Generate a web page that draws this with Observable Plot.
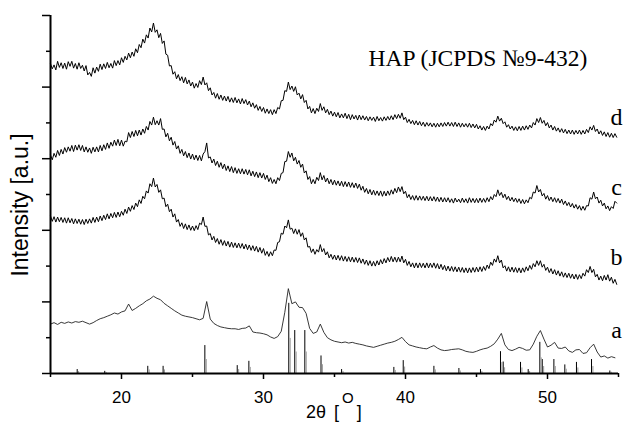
<!DOCTYPE html>
<html>
<head>
<meta charset="utf-8">
<script src="https://cdn.jsdelivr.net/npm/d3@7"></script>
<script src="https://cdn.jsdelivr.net/npm/@observablehq/plot@0.6"></script>
<style>
  html, body { margin: 0; padding: 0; background: #fff; }
</style>
</head>
<body>
<div id="chart"></div>
<script>
// 2θ grids of the scans (degrees)
const twoThetaStart = 15, twoThetaEnd = 55;
const stepSmooth = 0.25, stepNoisy = 0.125;
const twoThetaA = d3.range(twoThetaStart, twoThetaEnd, stepSmooth);  // 160 points (curve a)
const twoThetaBCD = d3.range(twoThetaStart, twoThetaEnd, stepNoisy); // 320 points (curves b, c, d)

const seriesNames = ["a", "b", "c", "d"];

// Intensities (arbitrary units, stacked curves)
const intensityA = [
  13.8, 14.2, 13.7, 14.3, 14.0, 14.4, 14.1, 14.5,
  14.3, 14.6, 14.2, 13.8, 14.2, 14.8, 15.3, 15.6,
  16.0, 16.4, 16.9, 16.6, 17.2, 17.5, 19.4, 17.6,
  18.2, 18.9, 19.5, 20.3, 20.8, 21.6, 21.0, 20.6,
  19.6, 18.9, 18.2, 17.5, 16.9, 16.3, 16.0, 15.8,
  15.6, 15.3, 15.0, 15.4, 20.1, 15.2, 14.0, 13.4,
  13.0, 12.8, 12.6, 12.5, 12.5, 12.3, 12.6, 12.7,
  13.3, 11.6, 11.4, 11.3, 11.1, 10.8, 10.2, 9.8,
  10.3, 11.8, 17.1, 23.7, 19.5, 20.0, 18.5, 18.4,
  16.8, 12.6, 11.2, 11.6, 13.8, 11.5, 10.0, 9.4,
  9.0, 8.8, 8.6, 8.8, 8.5, 8.7, 8.4, 8.2,
  8.0, 7.7, 7.5, 7.3, 7.6, 7.9, 8.2, 8.5,
  8.7, 9.0, 9.5, 10.1, 8.9, 8.0, 7.7, 7.4,
  7.2, 7.0, 6.9, 7.4, 7.8, 7.1, 6.6, 6.4,
  6.5, 6.7, 6.8, 6.9, 6.6, 6.2, 6.0, 5.9,
  6.2, 6.6, 6.9, 7.1, 7.6, 8.3, 9.6, 11.2,
  8.0, 6.7, 6.4, 6.8, 7.3, 7.0, 6.5, 6.6,
  8.2, 10.4, 12.0, 9.6, 7.4, 7.9, 8.7, 7.1,
  7.0, 7.4, 6.3, 5.9, 6.6, 6.7, 5.6, 5.8,
  7.2, 8.2, 6.0, 4.6, 4.9, 4.3, 4.7, 4.4
];
const intensityB = [
  44.0, 42.5, 43.8, 42.3, 43.7, 42.4, 43.6, 42.2, 43.5, 42.0, 43.5, 42.1, 43.3, 41.8, 43.2, 41.9,
  43.1, 41.7, 43.0, 41.6, 43.1, 41.9, 43.2, 42.0, 43.6, 42.2, 43.7, 42.4, 44.0, 42.7, 44.2, 43.0,
  44.6, 43.2, 44.7, 43.5, 45.0, 43.6, 45.1, 43.8, 45.3, 44.2, 45.9, 44.7, 46.5, 45.3, 46.9, 45.8,
  47.6, 46.6, 48.5, 47.5, 49.5, 48.8, 51.0, 50.4, 53.0, 52.2, 54.6, 52.1, 52.8, 50.6, 51.3, 48.8,
  49.0, 46.6, 47.3, 45.2, 45.9, 43.7, 44.6, 42.3, 43.0, 41.1, 42.1, 40.5, 41.8, 40.2, 41.5, 40.0,
  41.2, 39.9, 41.3, 40.2, 42.0, 41.6, 43.7, 41.1, 41.2, 38.7, 39.1, 37.3, 38.3, 36.6, 37.7, 36.1,
  37.4, 35.8, 37.1, 35.6, 36.9, 35.3, 36.7, 35.2, 36.5, 35.1, 36.4, 35.0, 36.3, 34.8, 36.1, 34.6,
  35.9, 34.4, 35.7, 34.2, 35.5, 33.9, 35.2, 33.6, 34.9, 33.0, 34.1, 32.7, 34.0, 32.9, 34.5, 34.4,
  36.6, 36.8, 39.2, 38.9, 41.2, 40.7, 42.9, 40.3, 40.6, 39.1, 40.4, 38.9, 40.2, 38.3, 39.3, 37.3,
  37.9, 35.3, 35.5, 33.8, 34.8, 33.3, 34.6, 33.9, 36.0, 34.0, 34.9, 33.1, 34.0, 32.3, 33.3, 31.9,
  33.1, 31.7, 33.0, 31.6, 32.9, 31.4, 32.7, 31.3, 32.6, 31.2, 32.5, 31.1, 32.4, 31.0, 32.3, 30.8,
  32.0, 30.5, 31.7, 30.2, 31.5, 30.0, 31.3, 30.0, 31.5, 30.3, 31.8, 30.6, 32.1, 30.9, 32.4, 31.2,
  32.7, 31.2, 32.5, 31.1, 32.5, 31.2, 32.8, 30.9, 31.9, 30.2, 31.3, 29.8, 30.9, 29.5, 30.9, 29.5,
  30.9, 29.6, 30.8, 29.5, 30.9, 29.5, 30.8, 29.6, 30.9, 29.4, 30.7, 29.2, 30.5, 29.0, 30.2, 28.7,
  30.0, 28.6, 29.9, 28.5, 29.8, 28.4, 29.7, 28.3, 29.6, 28.2, 29.5, 28.1, 29.5, 28.2, 29.6, 28.3,
  29.7, 28.4, 29.8, 28.5, 29.9, 28.8, 30.3, 29.3, 31.1, 30.2, 32.0, 31.1, 32.9, 30.9, 31.7, 29.5,
  30.1, 28.6, 29.8, 28.4, 29.7, 28.3, 29.6, 28.2, 29.5, 28.1, 29.5, 28.3, 29.8, 28.7, 30.2, 29.1,
  30.7, 29.8, 31.5, 30.2, 31.5, 29.7, 30.5, 28.8, 29.7, 28.2, 29.3, 27.8, 29.0, 27.5, 28.7, 27.2,
  28.4, 26.9, 28.1, 26.8, 28.0, 26.6, 27.8, 26.4, 27.7, 26.3, 27.6, 26.5, 28.0, 27.2, 29.0, 28.2,
  29.9, 28.2, 29.1, 27.0, 27.7, 26.1, 27.2, 25.9, 27.4, 26.1, 27.6, 25.8, 26.9, 25.2, 26.3, 24.9
];
const intensityC = [
  61.0, 59.7, 61.5, 60.4, 62.3, 60.9, 62.6, 61.3, 63.1, 61.8, 63.3, 62.1, 63.7, 62.0, 63.8, 62.4,
  63.9, 62.3, 63.7, 61.9, 63.3, 61.8, 63.0, 61.5, 63.2, 61.9, 63.3, 61.9, 63.7, 62.2, 63.9, 62.6,
  64.4, 62.9, 64.6, 63.5, 65.2, 63.7, 65.4, 63.6, 65.2, 63.5, 64.9, 64.7, 67.3, 65.9, 67.6, 66.2,
  67.9, 66.4, 68.0, 66.6, 68.3, 67.1, 69.0, 68.0, 70.4, 69.4, 71.6, 69.5, 70.6, 69.4, 71.2, 68.2,
  68.3, 66.1, 67.1, 65.0, 66.0, 63.8, 64.8, 62.7, 63.6, 61.5, 62.6, 60.8, 62.0, 60.3, 61.6, 59.9,
  61.3, 59.7, 61.0, 59.5, 60.9, 59.4, 61.3, 62.0, 64.4, 60.2, 60.5, 58.8, 59.9, 58.1, 59.3, 57.6,
  58.9, 57.2, 58.5, 56.7, 58.0, 56.4, 57.8, 56.1, 57.5, 55.9, 57.2, 55.8, 57.2, 55.7, 57.0, 55.5,
  56.9, 55.2, 56.5, 55.0, 56.3, 54.7, 56.1, 54.6, 55.9, 54.2, 55.4, 53.6, 54.7, 53.1, 54.2, 53.0,
  54.7, 53.9, 55.9, 56.1, 59.2, 59.3, 62.0, 60.4, 61.6, 59.4, 60.4, 58.5, 59.5, 57.6, 58.5, 56.0,
  56.6, 54.2, 55.0, 53.0, 54.2, 53.0, 54.8, 53.9, 56.1, 54.1, 55.3, 53.5, 54.6, 53.0, 54.2, 52.7,
  54.0, 52.6, 53.8, 52.4, 53.7, 52.2, 53.6, 52.2, 53.5, 52.0, 53.3, 51.9, 53.2, 51.7, 52.9, 51.2,
  52.3, 50.6, 51.7, 50.2, 51.4, 49.9, 51.2, 49.8, 51.0, 49.7, 51.0, 49.5, 50.9, 49.6, 51.0, 49.8,
  51.3, 50.1, 51.7, 50.5, 52.1, 50.8, 52.2, 50.2, 50.9, 49.1, 50.0, 48.6, 49.7, 48.4, 49.7, 48.4,
  49.6, 48.4, 49.5, 48.3, 49.5, 48.2, 49.4, 48.2, 49.4, 48.1, 49.3, 48.0, 49.2, 47.9, 49.1, 47.9,
  49.1, 47.8, 48.8, 47.6, 49.0, 47.9, 48.7, 47.7, 49.0, 47.8, 48.8, 47.6, 49.1, 47.8, 48.9, 47.7,
  48.9, 47.7, 49.0, 47.8, 48.9, 47.8, 49.1, 48.0, 49.4, 48.5, 50.0, 49.4, 51.3, 49.7, 50.6, 49.1,
  50.1, 48.6, 49.5, 48.2, 49.2, 48.0, 49.0, 47.8, 48.8, 47.5, 48.6, 47.4, 48.5, 47.7, 49.2, 48.8,
  50.7, 50.4, 52.5, 50.7, 51.4, 49.6, 50.3, 48.7, 49.7, 48.3, 49.3, 48.0, 49.1, 47.8, 48.9, 47.6,
  48.7, 47.2, 48.2, 46.9, 47.8, 46.5, 47.5, 46.2, 47.2, 45.9, 46.9, 45.6, 46.7, 45.6, 46.9, 46.8,
  49.1, 48.7, 50.7, 48.8, 49.3, 47.6, 48.4, 46.8, 47.6, 46.0, 46.8, 45.5, 46.6, 46.1, 48.1, 47.6
];
const intensityD = [
  86.5, 85.1, 86.2, 84.8, 87.2, 85.5, 86.8, 85.2, 86.7, 85.0, 87.1, 85.8, 87.2, 85.3, 86.6, 85.0,
  86.8, 85.2, 86.1, 84.5, 86.0, 83.4, 84.1, 83.0, 85.4, 83.9, 85.6, 84.4, 86.4, 84.9, 86.5, 85.2,
  86.9, 85.4, 86.6, 85.3, 87.4, 86.0, 87.4, 86.2, 88.2, 86.9, 88.6, 87.6, 89.5, 88.2, 89.8, 88.6,
  90.7, 89.6, 91.9, 91.0, 93.4, 92.3, 94.6, 93.7, 96.5, 95.4, 97.9, 95.3, 96.0, 93.8, 95.0, 92.2,
  92.9, 89.2, 88.9, 85.9, 86.0, 83.6, 84.3, 82.3, 83.5, 81.8, 82.9, 81.2, 82.7, 80.9, 82.0, 80.3,
  81.4, 79.7, 81.0, 79.9, 81.8, 80.7, 82.8, 80.6, 81.2, 79.0, 79.8, 77.8, 78.5, 76.9, 78.2, 76.6,
  77.8, 76.3, 77.5, 76.1, 77.4, 75.8, 77.0, 75.7, 77.1, 75.6, 76.7, 75.3, 76.8, 75.4, 76.5, 75.0,
  76.1, 74.5, 75.6, 74.1, 75.1, 73.5, 74.6, 73.2, 74.3, 72.7, 73.9, 72.6, 73.7, 72.3, 73.7, 72.6,
  74.3, 73.9, 76.2, 76.3, 79.0, 78.8, 81.4, 79.3, 80.3, 78.8, 80.1, 77.8, 78.3, 76.7, 77.9, 75.7,
  76.3, 73.9, 74.6, 72.8, 74.0, 72.6, 74.1, 73.2, 75.4, 73.5, 74.5, 72.8, 73.8, 72.3, 73.3, 71.9,
  73.0, 71.7, 72.9, 71.4, 72.5, 71.4, 72.7, 71.2, 72.4, 70.9, 72.3, 71.1, 72.1, 70.8, 72.2, 70.9,
  72.0, 70.8, 71.8, 70.6, 71.7, 70.7, 71.6, 70.4, 71.8, 70.6, 71.5, 70.5, 71.7, 70.7, 71.8, 70.8,
  72.0, 70.9, 72.3, 71.2, 72.4, 71.3, 72.8, 70.9, 71.6, 70.1, 71.0, 69.8, 70.7, 69.5, 70.6, 69.4,
  70.4, 69.2, 70.2, 69.0, 70.1, 69.1, 70.0, 68.9, 69.9, 68.8, 69.9, 68.9, 70.0, 69.0, 70.1, 69.1,
  70.2, 69.1, 70.1, 69.0, 70.2, 69.0, 70.0, 68.8, 69.9, 68.9, 69.8, 68.8, 69.9, 68.7, 69.7, 68.6,
  69.6, 68.3, 69.2, 68.0, 69.0, 67.9, 69.1, 68.3, 69.8, 69.2, 70.8, 70.2, 71.9, 70.5, 71.3, 69.8,
  70.3, 68.8, 69.5, 68.3, 69.1, 67.9, 68.9, 67.8, 69.0, 67.9, 69.1, 68.0, 69.2, 68.2, 69.4, 68.6,
  70.1, 69.4, 71.2, 70.1, 71.5, 69.9, 70.7, 69.2, 70.1, 68.6, 69.4, 68.0, 69.0, 67.7, 68.6, 67.4,
  68.4, 67.2, 68.2, 67.0, 68.0, 66.9, 68.0, 66.8, 67.9, 66.9, 68.0, 66.8, 67.9, 66.9, 68.2, 67.3,
  68.9, 68.0, 69.3, 67.6, 68.3, 66.9, 67.8, 66.5, 67.5, 66.2, 67.3, 66.0, 67.1, 65.9, 67.0, 66.0
];

// Reference pattern HAP (JCPDS 9-432): line positions and heights
const stickPositions = [16.88, 18.82, 21.85, 22.93, 25.87, 28.15, 28.97, 31.78, 32.20, 32.91,
  34.05, 35.50, 39.18, 39.84, 42.00, 43.76, 45.28, 46.69, 46.88, 48.10,
  48.64, 49.46, 49.63, 50.45, 51.22, 52.04, 53.10, 54.39];
const stickHeights = [1.1, 0.6, 2.0, 2.0, 7.8, 2.2, 3.4, 19.6, 12.0, 12.0,
  4.9, 1.1, 1.7, 3.6, 2.0, 1.4, 1.1, 6.1, 3.2, 3.1,
  1.1, 8.7, 3.9, 3.9, 2.4, 3.1, 3.9, 0.7];

const majorTicksX = [20, 30, 40, 50];
const minorTicksX = [15, 25, 35, 45, 55];
const majorTicksY = [0, 20, 40, 60, 80, 100];
const minorTicksY = [10, 30, 50, 70, 90];

const refTitle = "HAP (JCPDS №9-432)";
const xLabelMain = "2θ", yLabel = "Intensity [a.u.]";

// build tables
const rowsA = twoThetaA.map((t, i) => ({s: "a", t, v: intensityA[i]}));
const rowsNoisy = [];
[["b", intensityB], ["c", intensityC], ["d", intensityD]].forEach(([s, arr]) => {
  twoThetaBCD.forEach((t, i) => rowsNoisy.push({s, t, v: arr[i]}));
});
const sticks = stickPositions.map((p, i) => ({p, h: stickHeights[i]}));
const labelRows = seriesNames.map((s, k) => ({s, x: 54.86, y: [9.8, 30.4, 50.0, 69.3][k]}));

const sans = "'Liberation Sans', Arial, Helvetica, sans-serif";
const serif = "'Liberation Serif', 'Times New Roman', serif";

const plot = Plot.plot({
  width: 625,
  height: 430,
  marginLeft: 50,
  marginRight: 7,
  marginTop: 15,
  marginBottom: 57,
  x: {domain: [15, 55]},
  y: {domain: [0, 100]},
  style: {fontFamily: sans, background: "#fff", color: "#000"},
  marks: [
    Plot.ruleX(sticks, {x: "p", y1: 0, y2: "h", stroke: "#000", strokeWidth: 1}),
    Plot.ruleX(sticks, {x: "p", y1: 0, y2: d => d.h * 0.5, dx: 1.4, stroke: "#999", strokeWidth: 1}),
    Plot.line(rowsA, {x: "t", y: "v", stroke: "#222", strokeWidth: 0.9}),
    Plot.line(rowsNoisy, {x: "t", y: "v", z: "s", stroke: "#000", strokeWidth: 1}),
    Plot.axisX({ticks: majorTicksX, tickSize: 6, tickPadding: 11, fontSize: 17, label: null, strokeWidth: 1.5}),
    Plot.axisX({ticks: minorTicksX, tickSize: 4, tickFormat: () => "", label: null, strokeWidth: 1.5}),
    Plot.axisY({ticks: majorTicksY, tickSize: 8, tickFormat: () => "", label: null, strokeWidth: 1.5}),
    Plot.axisY({ticks: minorTicksY, tickSize: 4, tickFormat: () => "", label: null, strokeWidth: 1.5}),
    Plot.ruleY([0], {stroke: "#000", strokeWidth: 2}),
    Plot.ruleX([15], {stroke: "#000", strokeWidth: 2}),
    Plot.text([refTitle], {x: 37.4, y: 86.0, text: d => d, textAnchor: "start", lineAnchor: "bottom",
      fontFamily: serif, fontSize: 23.5, fill: "#000"}),
    Plot.text(labelRows, {x: "x", y: "y", text: "s", textAnchor: "middle", lineAnchor: "bottom",
      fontFamily: serif, fontSize: 24, fill: "#000"})
  ]
});

const svg = d3.select(plot);
const xs = plot.scale("x");
// y-axis label
svg.append("text")
  .attr("transform", "translate(28,205) rotate(-90)")
  .attr("text-anchor", "middle")
  .attr("font-family", sans)
  .attr("font-size", 23)
  .attr("fill", "#000")
  .text(yLabel);
// x-axis label: 2θ [°] with raised O
const xl = svg.append("text")
  .attr("x", xs.apply(35) - 28)
  .attr("y", 418)
  .attr("text-anchor", "start")
  .attr("font-family", sans)
  .attr("font-size", 18)
  .attr("fill", "#000");
xl.append("tspan").text(xLabelMain);
xl.append("tspan").attr("dx", 8).text("[");
xl.append("tspan").attr("dx", 3).attr("dy", -15).attr("font-size", 15).text("O");
xl.append("tspan").attr("dx", 3).attr("dy", 15).text("]");

document.getElementById("chart").appendChild(plot);
</script>
</body>
</html>
